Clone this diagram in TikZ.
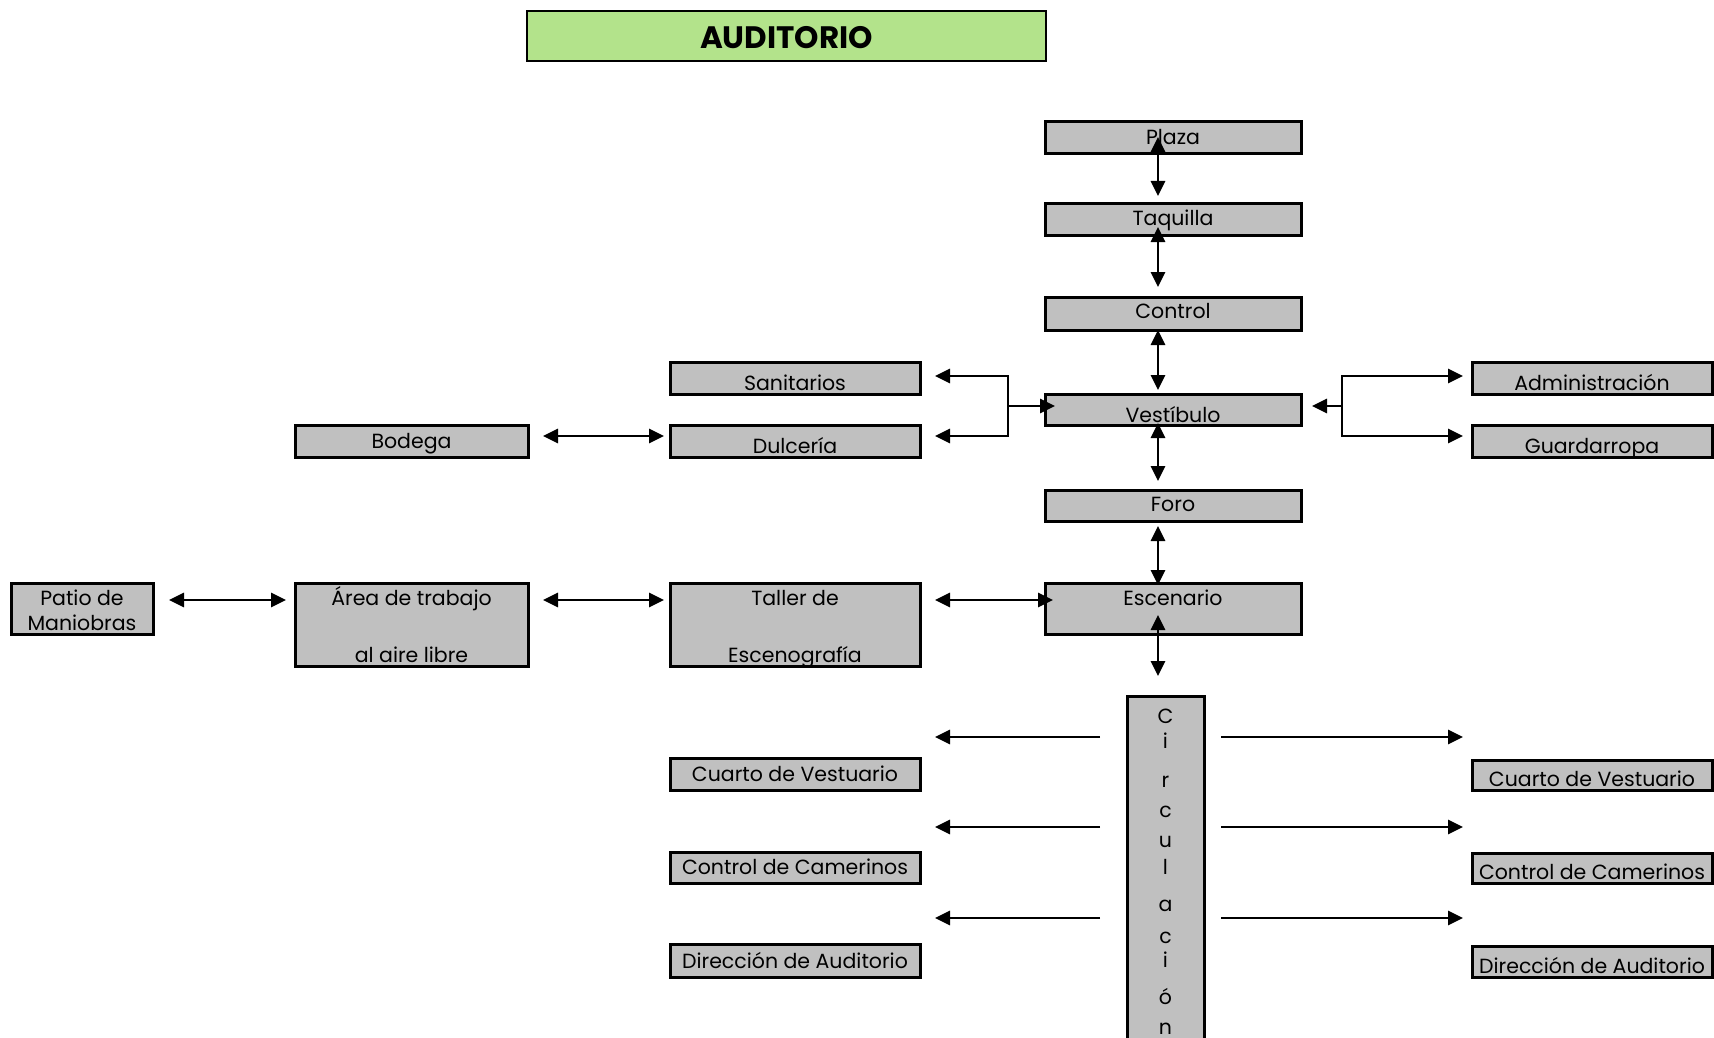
\documentclass[tikz,border=0pt]{standalone}
\usepackage{fontspec}
\setmainfont{Poppins}
\usetikzlibrary{arrows.meta,calc}
\definecolor{boxgray}{RGB}{192,192,192}
\definecolor{titlegreen}{RGB}{179,227,139}
\begin{document}
\begin{tikzpicture}[x=1pt,y=-1pt,
  box/.style={draw=black, line width=3pt, fill=boxgray, inner sep=0pt, outer sep=0pt},
  lbl/.style={anchor=base, inner sep=0pt, font=\fontsize{20.5}{24}\selectfont},
  con/.style={line width=2.7pt, draw=black},
  >={Triangle[length=15pt,width=14pt]}
]
\clip (0,0) rectangle (1714,1038);
\fill[white] (0,0) rectangle (1714,1038);

% title
\node[box, fill=titlegreen, line width=2.6pt, minimum width=519pt, minimum height=50pt] (title) at (786.5,36) {};
\node[anchor=base, inner sep=0pt, font=\fontsize{31}{36}\selectfont\bfseries] (title-t) at (786.5,49) {AUDITORIO};

% central column
\node[box, minimum width=256pt, minimum height=32pt] (plaza) at (1173,138) {};
\node[box, minimum width=256pt, minimum height=32pt] (taquilla) at (1173,219) {};
\node[box, minimum width=256pt, minimum height=33pt] (control) at (1173,313.5) {};
\node[box, minimum width=256pt, minimum height=31pt] (vestibulo) at (1173,409.5) {};
\node[box, minimum width=256pt, minimum height=31pt] (foro) at (1173,505.5) {};
\node[box, minimum width=256pt, minimum height=51pt] (escenario) at (1173,608.5) {};
\node[box, anchor=north west, minimum width=77pt, minimum height=360pt] (circ) at (1127,696) {};

% left side
\node[box, minimum width=250pt, minimum height=32pt] (sanitarios) at (795,378) {};
\node[box, minimum width=250pt, minimum height=32pt] (dulceria) at (795,441) {};
\node[box, minimum width=233pt, minimum height=32pt] (bodega) at (411.5,441) {};
\node[box, minimum width=142pt, minimum height=51pt] (patio) at (82,608.5) {};
\node[box, minimum width=233pt, minimum height=83pt] (area) at (411.5,624.5) {};
\node[box, minimum width=250pt, minimum height=83pt] (taller) at (795,624.5) {};
\node[box, minimum width=250pt, minimum height=32pt] (lcv) at (795,774) {};
\node[box, minimum width=250pt, minimum height=31pt] (lcc) at (795,867.5) {};
\node[box, minimum width=250pt, minimum height=33pt] (lda) at (795,960.5) {};

% right side
\node[box, minimum width=240pt, minimum height=32pt] (admin) at (1592,378) {};
\node[box, minimum width=240pt, minimum height=32pt] (guard) at (1592,441) {};
\node[box, minimum width=240pt, minimum height=30pt] (rcv) at (1592,775) {};
\node[box, minimum width=240pt, minimum height=30pt] (rcc) at (1592,868) {};
\node[box, minimum width=240pt, minimum height=31pt] (rda) at (1592,961.5) {};

% labels
\node[lbl] (plaza-t) at (1173,145) {Plaza};
\node[lbl] (taquilla-t) at (1173,225) {Taquilla};
\node[lbl] (control-t) at (1173,318) {Control};
\node[lbl] (vestibulo-t) at (1173,422) {Vestíbulo};
\node[lbl] (foro-t) at (1173,511) {Foro};
\node[lbl] (escenario-t) at (1173,605) {Escenario};
\node[lbl] (sanitarios-t) at (795,390) {Sanitarios};
\node[lbl] (dulceria-t) at (795,453) {Dulcería};
\node[lbl] (bodega-t) at (411.5,448) {Bodega};
\node[lbl] (admin-t) at (1592,390) {Administración};
\node[lbl] (guard-t) at (1592,453) {Guardarropa};
\node[lbl] (patio-t1) at (82,605) {Patio de};
\node[lbl] (patio-t2) at (82,630) {Maniobras};
\node[lbl] (area-t1) at (411.5,605) {Área de trabajo};
\node[lbl] (area-t2) at (411.5,662) {al aire libre};
\node[lbl] (taller-t1) at (795,605) {Taller de};
\node[lbl] (taller-t2) at (795,662) {Escenografía};
\node[lbl] (lcv-t) at (795,781) {Cuarto de Vestuario};
\node[lbl] (lcc-t) at (795,874) {Control de Camerinos};
\node[lbl] (lda-t) at (795,968) {Dirección de Auditorio};
\node[lbl] (rcv-t) at (1592,786) {Cuarto de Vestuario};
\node[lbl] (rcc-t) at (1592,879) {Control de Camerinos};
\node[lbl] (rda-t) at (1592,973) {Dirección de Auditorio};
\foreach \ch/\yy [count=\k] in {C/723, i/748, r/787, c/817, u/847, l/874, a/911, c/943, i/967, ó/1004, n/1034}
  \node[lbl] (circ-t\k) at (1165.5,\yy) {\ch};

% vertical chain
\draw[con,<->,shorten <=-17pt,shorten >=7pt] ([xshift=-15pt]plaza.south) -- ([xshift=-15pt]taquilla.north);
\draw[con,<->,shorten <=-8pt,shorten >=10pt] ([xshift=-15pt]taquilla.south) -- ([xshift=-15pt]control.north);
\draw[con,<->,shorten <=0pt,shorten >=4pt] ([xshift=-15pt]control.south) -- ([xshift=-15pt]vestibulo.north);
\draw[con,<->,shorten <=-2pt,shorten >=9pt] ([xshift=-15pt]vestibulo.south) -- ([xshift=-15pt]foro.north);
\draw[con,<->,shorten <=5pt,shorten >=-2pt] ([xshift=-15pt]foro.south) -- ([xshift=-15pt]escenario.north);
\draw[con,<->,shorten <=-19pt,shorten >=20pt] ([xshift=-15pt]escenario.south) -- ([xshift=-15pt]escenario.south |- circ.north);

% bodega - dulceria
\draw[con,<->] ($(bodega.east)+(15,-5)$) -- ($(dulceria.west)+(-6,-5)$);

% left bracket
\coordinate (lbk) at (1008,406);
\draw[con,<->] ($(sanitarios.east)+(15,-2)$) -| (lbk) |- ($(dulceria.east)+(15,-5)$);
\draw[con,->] (lbk) -- ($(vestibulo.west)+(10,-3.5)$);

% right bracket
\coordinate (rbk) at (1342,406);
\draw[con,<->] ($(admin.west)+(-9,-2)$) -| (rbk) |- ($(guard.west)+(-9,-5)$);
\draw[con,->] (rbk) -- ($(vestibulo.east)+(11,-3.5)$);

% stage row
\draw[con,<->] ($(patio.north east)+(16,17)$) -- ($(area.north west)+(-9,17)$);
\draw[con,<->] ($(area.north east)+(15,17)$) -- ($(taller.north west)+(-6,17)$);
\draw[con,<->] ($(taller.north east)+(15,17)$) -- ($(escenario.north west)+(8,17)$);

% circulacion arrows
\draw[con,->] ($(circ.north west)+(-27,41)$) -- ($(lcv.north east)+(15,-21)$);
\draw[con,->] ($(circ.north west)+(-27,131)$) -- ($(lcc.north east)+(15,-25)$);
\draw[con,->] ($(circ.north west)+(-27,222)$) -- ($(lda.north east)+(15,-26)$);
\draw[con,->] ($(circ.north east)+(17,41)$) -- ($(rcv.north west)+(-9,-23)$);
\draw[con,->] ($(circ.north east)+(17,131)$) -- ($(rcc.north west)+(-9,-26)$);
\draw[con,->] ($(circ.north east)+(17,222)$) -- ($(rda.north west)+(-9,-28)$);
\end{tikzpicture}
\end{document}
